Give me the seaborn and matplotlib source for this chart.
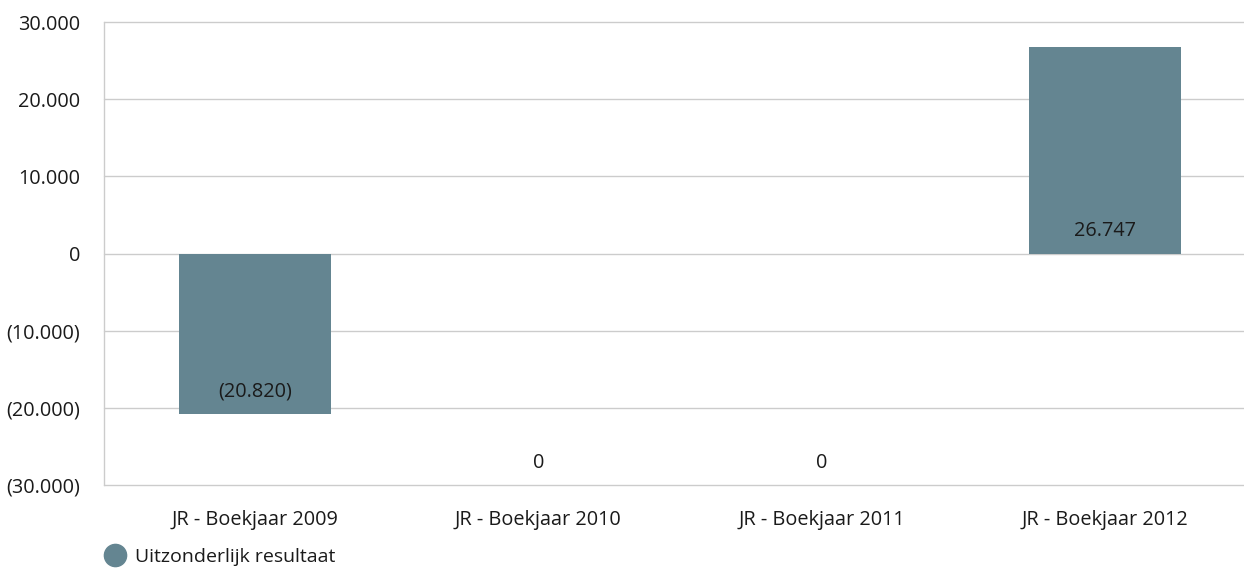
import matplotlib
matplotlib.use("Agg")
import matplotlib.pyplot as plt
import seaborn as sns
import pandas as pd
from matplotlib.lines import Line2D

categories = ["JR - Boekjaar 2009", "JR - Boekjaar 2010", "JR - Boekjaar 2011", "JR - Boekjaar 2012"]
values = [-20820, 0, 0, 26747]
value_labels = ["(20.820)", "0", "0", "26.747"]
yticks = [-30000, -20000, -10000, 0, 10000, 20000, 30000]
ytick_labels = ["(30.000)", "(20.000)", "(10.000)", "0", "10.000", "20.000", "30.000"]
series_name = "Uitzonderlijk resultaat"
color = "#648591"
text_color = "#1a1a1a"
fs = 14.3

sns.set_theme(style="white")
plt.rcParams["font.family"] = ["Open Sans", "DejaVu Sans"]

df = pd.DataFrame({"cat": categories, "val": values})

fig = plt.figure(figsize=(12.44, 5.70), dpi=100)
ax = fig.add_axes([104 / 1244, 1 - 485 / 570, (1244 - 104) / 1244, (485 - 22) / 570])

sns.barplot(data=df, x="cat", y="val", color=color, width=0.535, ax=ax,
            saturation=1, zorder=3, linewidth=0)

ax.set_ylim(-30000, 30000)
ax.set_xlim(-0.533, 3.49)
ax.set_yticks(yticks)
ax.set_yticklabels(ytick_labels)
ax.yaxis.grid(True, color="#cccccc", linewidth=1, zorder=0)
for gl in ax.yaxis.get_gridlines():
    gl.set_clip_on(False)
ax.xaxis.grid(False)
for s in ["top", "right", "bottom"]:
    ax.spines[s].set_visible(False)
ax.spines["left"].set_color("#cccccc")
ax.spines["left"].set_linewidth(1)
ax.tick_params(axis="y", length=0, pad=17, labelsize=fs, labelcolor=text_color)
ax.tick_params(axis="x", length=0, pad=18, labelsize=fs, labelcolor=text_color)
ax.set_xlabel("")
ax.set_ylabel("")

# value labels: offset above the lower end of each bar (or the axis floor for zeros)
for i, (v, t) in enumerate(zip(values, value_labels)):
    anchor = min(v, 0) if v != 0 else ax.get_ylim()[0]
    ax.annotate(t, (i, anchor), xytext=(0, 16), textcoords="offset points",
                ha="center", va="center", fontsize=fs, color=text_color, zorder=5)

handle = Line2D([0], [0], marker="o", color="w", markerfacecolor=color,
                markeredgecolor=color, markersize=16)
fig.legend([handle], [series_name], loc="center left",
           bbox_to_anchor=(96 / 1244, 1 - 557 / 570), frameon=False,
           fontsize=14, handletextpad=0.4, borderaxespad=0, handlelength=1.2,
           labelcolor=text_color)

fig.savefig("out.png", dpi=100)
